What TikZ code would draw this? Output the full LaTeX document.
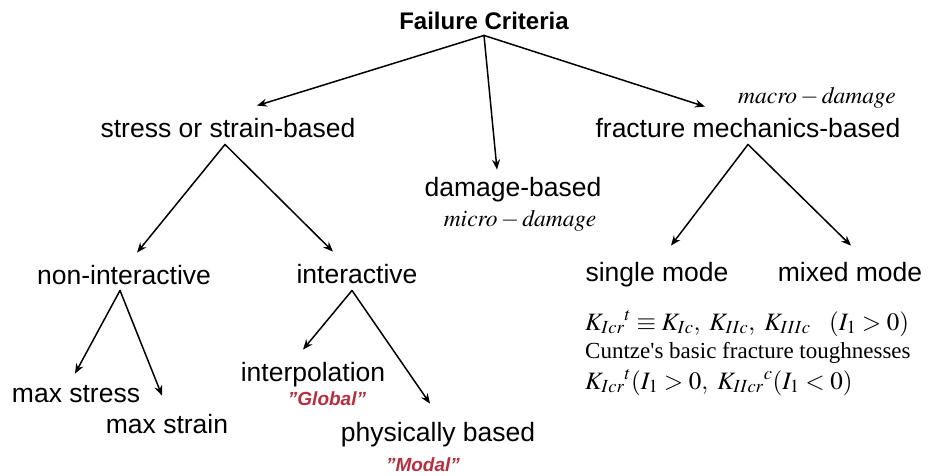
\documentclass[tikz,border=0pt]{standalone}
\usepackage{amsmath}
\usepackage{mathptmx}
\usepackage{fontspec}
\setmainfont{Liberation Sans}
\newfontfamily\tms{Liberation Serif}
\usetikzlibrary{arrows.meta}
\definecolor{tagred}{RGB}{185,45,60}

\begin{document}
\begin{tikzpicture}[
						x=1pt, y=-1pt,
						every node/.style={font=\fontsize{26.5}{30}\selectfont, inner sep=2pt, anchor=base},
						line cap=round,
						line join=round,
						arr/.style={-{Stealth[length=10pt,width=8pt]}, line width=1.5pt},
						crit/.style={font=\fontsize{24}{28}\selectfont\bfseries},
						dmg/.style={font=\fontsize{23.5}{27}\selectfont},
						frac/.style={font=\fontsize{23}{27}\selectfont\tms, anchor=base west},
						kfrm/.style={font=\fontsize{25}{29}\selectfont\tms, anchor=base west},
						tag/.style={font=\fontsize{19}{22}\selectfont\bfseries\itshape, text=tagred}
						]
						\useasboundingbox (0,0) rectangle (928,476);
						
						% Root
						\node[crit] (fc) at (484,30) {Failure Criteria};
						
						% First level
						\node (sb) at (228,137) {stress or strain-based};
						\node (db) at (513,196) {damage-based};
						\node[dmg] (micro) at (520,226) {$\mathit{micro}-\mathit{damage}$};
						\node (fm) at (748,137) {fracture mechanics-based};
						\node[dmg] (macro) at (817,103) {$\mathit{macro}-\mathit{damage}$};
						
						% Second level
						\node (ni) at (124,284) {non-interactive};
						\node (ia) at (357,283) {interactive};
						\node (sm) at (657,281) {single mode};
						\node (mm) at (850,281) {mixed mode};
						
						% Third level
						\node (ms) at (76,402) {max stress};
						\node (mst) at (167,433) {max strain};
						\node (ip) at (313,381) {interpolation};
						\node[tag] (gl) at (327,405) {\symbol{"22}Global\symbol{"22}};
						\node (pb) at (438,441) {physically based};
						\node[tag] (md) at (423,471) {\symbol{"22}Modal\symbol{"22}};
						
						% Fracture toughnesses
						\node[kfrm] (kone) at (583,330) {$K_{Icr}{}^{t}\equiv K_{Ic},\ K_{IIc},\ K_{IIIc}\ \ \ (I_1>0)$};
						\node[frac] (cz) at (583,358) {Cuntze's basic fracture toughnesses};
						\node[kfrm] (ktwo) at (583,389) {$K_{Icr}{}^{t}(I_1>0,\ K_{IIcr}{}^{c}(I_1<0)$};
						
						% Connectors
						\draw[arr] ([yshift=-3pt]fc.south) -- ([xshift=29pt,yshift=10pt]sb.north);
						\draw[arr] ([yshift=-3pt]fc.south) -- ([xshift=-16pt,yshift=5pt]db.north);
						\draw[arr] ([yshift=-3pt]fc.south) -- ([xshift=-43pt,yshift=9pt]fm.north);
						
						\draw[arr] ([xshift=-3pt,yshift=-5pt]sb.south) -- ([xshift=13pt,yshift=10pt]ni.north);
						\draw[arr] ([xshift=-3pt,yshift=-5pt]sb.south) -- ([xshift=-24pt,yshift=10pt]ia.north);
						
						\draw[arr] ([yshift=-5pt]fm.south) -- ([xshift=14pt,yshift=14pt]sm.north);
						\draw[arr] ([yshift=-5pt]fm.south) -- ([xshift=1pt,yshift=14pt]mm.north);
						
						\draw[arr] ([xshift=-4pt,yshift=-4pt]ni.south) -- ([xshift=-1pt,yshift=9pt]ms.north);
						\draw[arr] ([xshift=-4pt,yshift=-4pt]ni.south) -- ([xshift=-5pt,yshift=16pt]mst.north);
						
						\draw[arr] ([xshift=-5pt,yshift=-5pt]ia.south) -- ([xshift=-10pt,yshift=10pt]ip.north);
						\draw[arr] ([xshift=-5pt,yshift=-5pt]ia.south) -- ([xshift=-8pt,yshift=16pt]pb.north);
						
					\end{tikzpicture}
\end{document}
